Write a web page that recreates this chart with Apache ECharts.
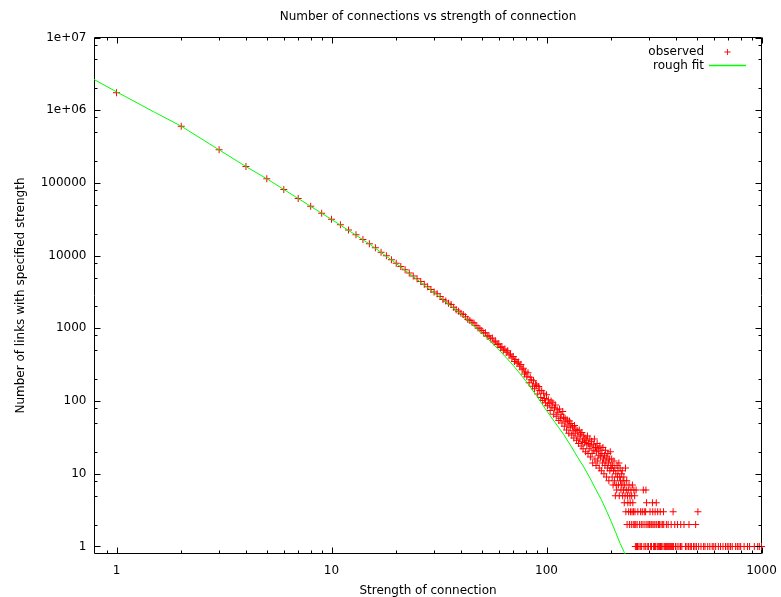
<!DOCTYPE html>
<html><head><meta charset="utf-8">
<script src="https://cdn.jsdelivr.net/npm/echarts@6.0.0/dist/echarts.min.js"></script>
<style>html,body{margin:0;padding:0;background:#fff}#c{width:781px;height:597px}</style>
</head><body><div id="c"></div>
<script>
// ---- data ----
// counts of links for strengths 1,2,3,... (consecutive integer strengths)
const denseCounts = [
1735000,603000,285000,168000,114000,81300,61100,47900,38400,31700,
26500,22600,19300,16700,14600,12800,11100,9950,8800,7850,
7080,6380,5780,5250,4790,4390,4030,3720,3430,3160,
2980,2740,2500,2370,2210,2120,1950,1800,1720,1610,
1550,1440,1330,1280,1210,1180,1090,1010,985,935,
860,870,780,790,720,735,650,668,600,615,
545,560,500,520,470,490,430,445,390,410,
350,372,330,345,300,318,270,282,235,250,
215,245,178,212,196,160,190,148,172,165,
125,158,140,112,138,102,128,108,95,122,
86,104,92,74,100,82,95,66,80,88,
62,76,70,54,78,58,66,50,72,60,
45,58,52,40,55,47,36,53,43,49,
34,45,39,31,46,36,41,29,39,33,
26,40,30,35,24,37,28,22,33,27,
31,20,29,25,33,19,26,22,30,17,
24,28,19,14,25,21,30,16,23,13,
20,26,15,22,18,12,24,17,21,11,
19,14,23,16,10,18,13,21,15,9,
17,12,19,14,8,16,11,20,13,12,
16,9,13,7,11,15,8,12,5,10,
7,6,13,9,11,7,14,5,9,12,
8,6,10,7,11,5,8,6,9,4,
7,5,12,3,6,8,2,5,4,6,
3,7,2,5,4,3,6,2,5,3,
7,4,2,3,6,2,5,3,1,2,
6
];
// sparse tail: strengths observed with the given count
const tailOnes = [262,265,269,273,277,284,288,294,298,305,308,315,318,321,327,330,333,336,339,342,345,352,355,358,362,366,370,374,378,382,386,390,398,405,413,420,426,443,450,458,466,472,483,490,498,510,523,538,546,562,575,590,600,612,630,645,662,680,693,705,718,731,758,772,786,800,830,861,880,926,960,977,1000];
const tailTwos = [264,271,276,281,287,293,297,301,306,309,313,317,323,326,332,335,341,347,351,361,368,380,395,407,421,436,460,494];
const tailThrees = [266,274,279,285,289,303,312,320,329,338,350,388,506];
const tailFours = [292,311,324];
const tailSixes = [282,290];

// rough fit curve
const fitX = [0.78,1,1.5,2,3,4,5,7,10,15,20,30,40,50,60,70,80,90,100,110,120,130,140,150,160,170,180,190,200,210,220,230,236];
const fitY = [2.68e6,1.79e6,9.4e5,6.03e5,2.85e5,1.68e5,1.14e5,6.1e4,3.15e4,1.45e4,7800,3100,1580,860,510,310,190,118,74,50,35,24,16.6,12.0,8.5,6.0,4.4,3.1,2.2,1.55,1.1,0.83,0.72];

// axis ticks
const xMajorTicks = [1,10,100,1000];
const xMinorTicks = [0.9,2,3,4,5,6,7,8,9,20,30,40,50,60,70,80,90,200,300,400,500,600,700,800,900];
const yMajorTicks = [1,10,100,1000,1e4,1e5,1e6,1e7];
const yMinorTicks = [2,5,8,20,50,80,200,500,800,2e3,5e3,8e3,2e4,5e4,8e4,2e5,5e5,8e5,2e6,5e6,8e6];

// ---- build ----
const observed = [];
denseCounts.forEach((c,i)=>observed.push([i+1,c]));
tailOnes.forEach(s=>observed.push([s,1]));
tailTwos.forEach(s=>observed.push([s,2]));
tailThrees.forEach(s=>observed.push([s,3]));
tailFours.forEach(s=>observed.push([s,4]));
tailSixes.forEach(s=>observed.push([s,6]));
const fit = fitX.map((x,i)=>[x,fitY[i]]);

const FONT = 'DejaVu Sans';
const PLUS = 'path://M3,0H4V3H7V4H4V7H3V4H0V3H3Z';
const LINE_ICON = 'path://M0,0H37V1.4H0Z';
function isPow10(v){const l=Math.log10(v);return Math.abs(l-Math.round(l))<1e-6;}

function tickRenderer(dir){
  return function(params, api){
    const major = api.value(2);
    const cs = params.coordSys;
    const len = major ? 6 : 3;
    const st = {stroke:'#000', lineWidth:1};
    if (dir==='x'){
      const p = api.coord([api.value(0), 1]);
      const x = Math.round(p[0]) + 0.5;
      const b = cs.y + cs.height, t = cs.y;
      return {type:'group', children:[
        {type:'line', shape:{x1:x,y1:b,x2:x,y2:b-len}, style:st},
        {type:'line', shape:{x1:x,y1:t,x2:x,y2:t+len}, style:st}
      ]};
    } else {
      const p = api.coord([1, api.value(1)]);
      const y = Math.round(p[1]) + 0.5;
      const l = cs.x, r = cs.x + cs.width;
      return {type:'group', children:[
        {type:'line', shape:{x1:l,y1:y,x2:l+len,y2:y}, style:st},
        {type:'line', shape:{x1:r,y1:y,x2:r-len,y2:y}, style:st}
      ]};
    }
  };
}

const chart = echarts.init(document.getElementById('c'), null, {renderer:'canvas'});
chart.setOption({
  animation:false,
  backgroundColor:'#fff',
  textStyle:{fontFamily:FONT},
  title:{text:'Number of connections vs strength of connection', left:428, top:11, textAlign:'center', padding:0,
    textStyle:{fontFamily:FONT, fontSize:12, fontWeight:'normal', color:'#000'}},
  legend:{orient:'vertical', right:35, top:46, align:'right', itemWidth:37, itemHeight:6, itemGap:1.5, padding:0,
    textStyle:{fontFamily:FONT, fontSize:12, color:'#000'},
    data:[{name:'observed', icon:PLUS}, {name:'rough fit', icon:LINE_ICON}]},
  grid:{left:94.5, right:19.5, top:37.5, bottom:43.5, show:true, borderColor:'#000', borderWidth:1, backgroundColor:'transparent', outerBoundsMode:'none'},
  xAxis:{type:'log', logBase:10, min:0.79, max:1000,
    axisLine:{show:false}, axisTick:{show:false}, splitLine:{show:false},
    axisLabel:{margin:11, fontSize:12, color:'#000', fontFamily:FONT,
      formatter:v=>isPow10(v)?String(Math.round(v)):''},
    name:'Strength of connection', nameLocation:'middle', nameGap:31,
    nameTextStyle:{fontSize:12, color:'#000', fontFamily:FONT}},
  yAxis:{type:'log', logBase:10, min:0.8, max:1e7,
    axisLine:{show:false}, axisTick:{show:false}, splitLine:{show:false},
    axisLabel:{margin:8, fontSize:12, color:'#000', fontFamily:FONT,
      formatter:v=>{ if(!isPow10(v)) return ''; const e=Math.round(Math.log10(v)); return e>=6 ? '1e+0'+e : String(Math.round(v)); }},
    name:'Number of links with specified strength', nameLocation:'middle', nameGap:68,
    nameTextStyle:{fontSize:12, color:'#000', fontFamily:FONT}},
  series:[
    {name:'observed', type:'scatter', data:observed, symbol:PLUS, symbolSize:7,
      itemStyle:{color:'#ff0000', opacity:1}, z:2},
    {name:'rough fit', type:'line', data:fit, symbol:'none', showSymbol:false, smooth:false,
      lineStyle:{color:'#00ff00', width:1}, itemStyle:{color:'#00ff00'}, z:3},
    {type:'custom', silent:true, renderItem:tickRenderer('x'), encode:{x:0,y:1},
      data:xMajorTicks.map(v=>[v,1,1]).concat(xMinorTicks.map(v=>[v,1,0])), z:5},
    {type:'custom', silent:true, renderItem:tickRenderer('y'), encode:{x:0,y:1},
      data:yMajorTicks.map(v=>[1,v,1]).concat(yMinorTicks.map(v=>[1,v,0])), z:5}
  ]
});
</script></body></html>
